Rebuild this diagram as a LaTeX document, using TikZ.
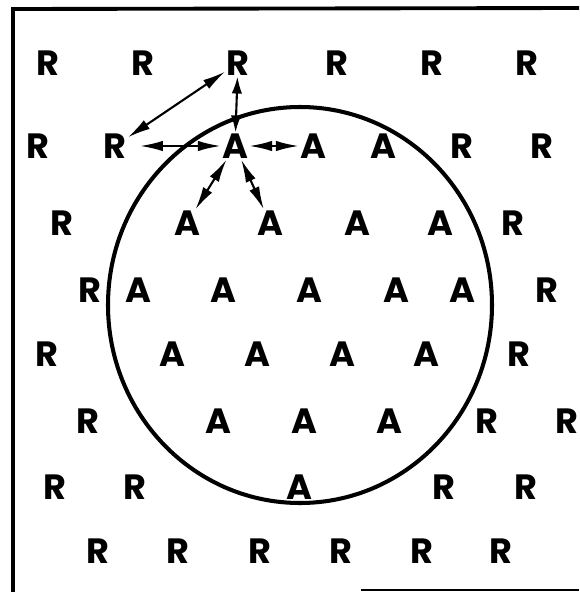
\documentclass[tikz,border=0pt]{standalone}
\usepackage{fontspec}
\setsansfont{Poppins}
\usetikzlibrary{arrows.meta}

\begin{document}
\begin{tikzpicture}[
  x=0.02cm,y=-0.02cm,
  letter/.style={font=\sffamily\bfseries\fontsize{20}{20}\selectfont,inner sep=0.5pt},
  link/.style={{Latex[length=4.6mm,width=2.1mm]}-{Latex[length=4.6mm,width=2.1mm]},line width=1.2pt},
  shortlink/.style={{Latex[length=3.4mm,width=2.1mm]}-{Latex[length=3.4mm,width=2.1mm]},line width=1.2pt},
  rim/.style={line width=2.3pt},
  frame/.style={line width=2.2pt}
]
\useasboundingbox (0,0) rectangle (579,592);
% frame
\draw[frame] (13,592) -- (13,9) -- (579,8);
\draw[line width=1.2pt] (361,590) -- (579,590);
% region boundary
\draw[rim] (300,305) ellipse [x radius=192,y radius=198];
% letters, row by row
\foreach \lab/\x [count=\c] in {R/48,R/143,R/238,R/337,R/432,R/527}
  \node[letter] (n1-\c) at (\x,63) {\lab};
\foreach \lab/\x [count=\c] in {R/38,R/115,A/235,A/313,A/383,R/462,R/542}
  \node[letter] (n2-\c) at (\x,146) {\lab};
\foreach \lab/\x [count=\c] in {R/62,A/187,A/270,A/357,A/440,R/513}
  \node[letter] (n3-\c) at (\x,223) {\lab};
\foreach \lab/\x [count=\c] in {R/90,A/138,A/223,A/309,A/396,A/462,R/547}
  \node[letter] (n4-\c) at (\x,290) {\lab};
\foreach \lab/\x [count=\c] in {R/47,A/172,A/257,A/342,A/426,R/519}
  \node[letter] (n5-\c) at (\x,354) {\lab};
\foreach \lab/\x [count=\c] in {R/88,A/218,A/304,A/389,R/487,R/567}
  \node[letter] (n6-\c) at (\x,421) {\lab};
\foreach \lab/\x [count=\c] in {R/55,R/135,A/299,R/444,R/526}
  \node[letter] (n7-\c) at (\x,487) {\lab};
\foreach \lab/\x [count=\c] in {R/98,R/178,R/260,R/341,R/422,R/501}
  \node[letter] (n8-\c) at (\x,551) {\lab};
% neighbour links of the marked A
\draw[link] (n1-3) -- (n2-2);
\draw[shortlink] (n1-3) -- (n2-3);
\draw[link,shorten >=7pt] (n2-3) -- (n2-2);
\draw[link] (n2-3) -- (n2-4);
\draw[link] (n2-3) -- (n3-2);
\draw[link] (n2-3) -- (n3-3);
\end{tikzpicture}
\end{document}
